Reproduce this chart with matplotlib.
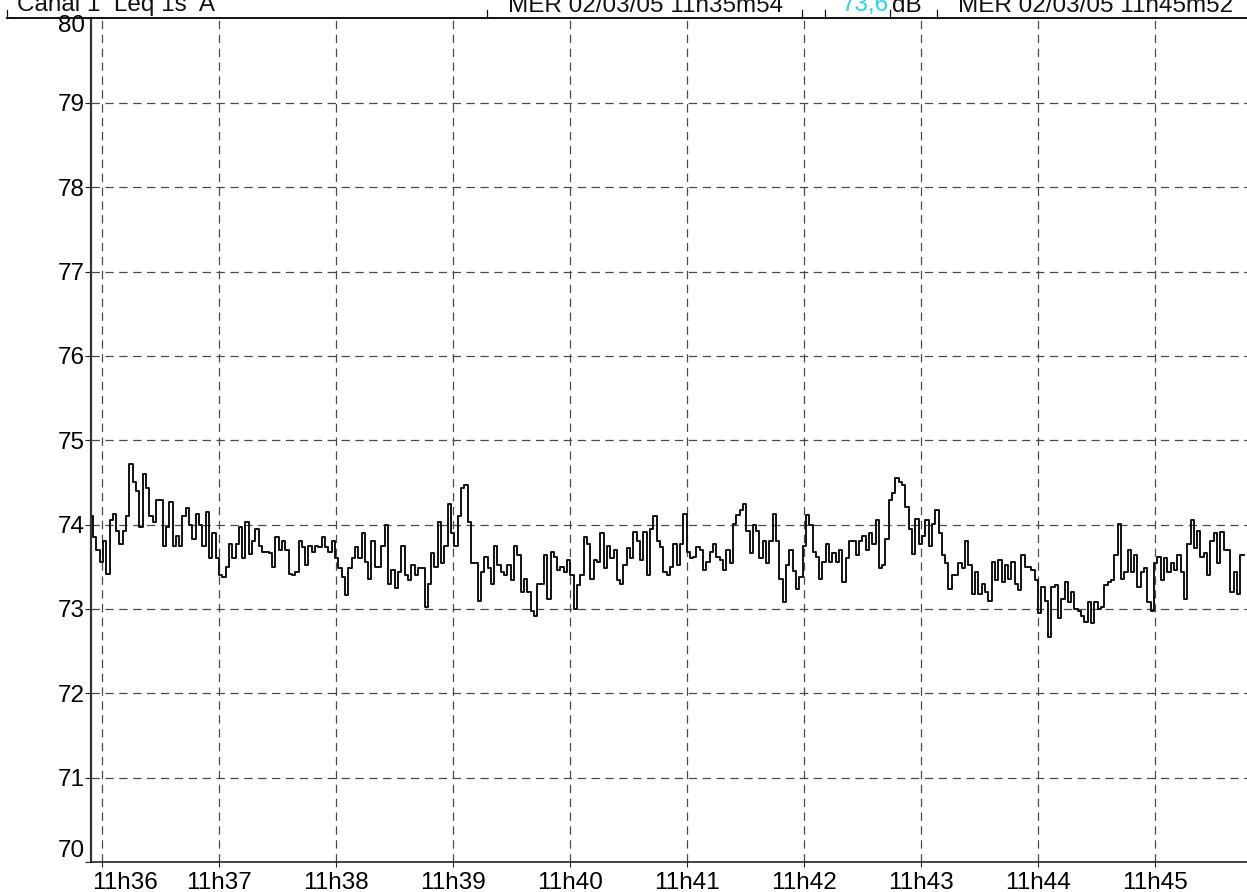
import matplotlib
matplotlib.use("Agg")
import matplotlib.pyplot as plt
import numpy as np
from matplotlib.ticker import FixedLocator, FuncFormatter
from matplotlib.transforms import ScaledTranslation
from matplotlib.lines import Line2D

plt.rcParams['font.family'] = ['Liberation Sans', 'DejaVu Sans']
plt.rcParams['lines.scale_dashes'] = False

# ---- data (Leq, dB(A)) ----
START_S = 2153.85          # seconds after 11h00m00s of first sample
SAMPLE_PERIOD_S = 1.70

levels_part1 = [74.1, 73.85, 73.7, 73.56, 73.8, 73.42, 74.05, 74.13, 73.93, 73.77,
                73.93, 74.1, 74.72, 74.5, 74.4, 73.97, 74.6, 74.43, 74.1, 74.03,
                74.29, 74.29, 73.75, 73.97, 74.27, 73.75, 73.87, 73.75, 74.1, 74.2,
                74.0, 73.83, 74.12, 74.0, 73.75, 74.15, 73.6, 73.9, 73.6, 73.4,
                73.38, 73.5, 73.77, 73.6, 73.77, 73.97, 73.6, 74.03, 73.65, 73.81,
                73.95, 73.75, 73.68, 73.68, 73.66, 73.5, 73.85, 73.7, 73.8, 73.7,
                73.42, 73.4, 73.44, 73.81, 73.73, 73.52, 73.75, 73.68, 73.75, 73.73,
                73.85, 73.73, 73.68, 73.8, 73.6, 73.48, 73.38, 73.16, 73.48, 73.6,
                73.73, 73.6, 73.9, 73.56, 73.36, 73.81, 73.5]
levels_part2 = [73.5, 73.75, 74.0, 73.3, 73.46, 73.25, 73.44, 73.75, 73.4, 73.34,
                73.52, 73.4, 73.48, 73.48, 73.02, 73.3, 73.66, 73.5, 74.03, 73.54,
                73.75, 74.25, 73.9, 73.75, 74.1, 74.43, 74.47, 74.03, 73.54, 73.54,
                73.1, 73.44, 73.62, 73.48, 73.3, 73.75, 73.52, 73.44, 73.4, 73.52,
                73.34, 73.75, 73.64, 73.2, 73.36, 73.2, 72.98, 72.92, 73.3, 73.3,
                73.64, 73.12, 73.68, 73.62, 73.46, 73.5, 73.44, 73.58, 73.4, 73.0,
                73.28, 73.4, 73.85, 73.77, 73.36, 73.58, 73.56, 73.9, 73.48, 73.75,
                73.6, 73.7, 73.34, 73.3, 73.52, 73.72, 73.6, 73.91, 73.8, 73.58,
                73.91, 73.4, 73.95, 74.1, 73.81, 73.73, 73.44]
levels_part3 = [73.4, 73.5, 73.77, 73.52, 73.77, 74.13, 73.68, 73.6, 73.62, 73.73,
                73.7, 73.46, 73.56, 73.68, 73.77, 73.62, 73.58, 73.46, 73.7, 73.54,
                74.01, 74.11, 74.17, 74.25, 73.93, 73.66, 74.0, 73.93, 73.6, 73.81,
                73.54, 73.81, 74.13, 73.81, 73.35, 73.08, 73.52, 73.7, 73.45, 73.24,
                73.38, 73.75, 74.11, 74.0, 73.68, 73.62, 73.36, 73.56, 73.77, 73.56,
                73.66, 73.56, 73.7, 73.32, 73.6, 73.81, 73.81, 73.64, 73.81, 73.87,
                73.7, 73.9, 73.77, 74.05, 73.48, 73.52, 73.83, 74.29, 74.37, 74.55,
                74.5, 74.47, 74.21, 73.95, 73.65, 74.07, 73.77, 73.87, 74.05, 73.75,
                74.01, 74.17, 73.9, 73.64, 73.54, 73.24, 73.4]
levels_part4 = [73.4, 73.55, 73.48, 73.81, 73.52, 73.18, 73.44, 73.18, 73.3, 73.2,
                73.1, 73.56, 73.34, 73.58, 73.32, 73.52, 73.36, 73.56, 73.3, 73.22,
                73.64, 73.5, 73.5, 73.46, 73.34, 72.95, 73.26, 73.1, 72.67, 73.26,
                73.28, 72.89, 73.12, 73.32, 73.08, 73.2, 73.0, 72.98, 72.92, 72.85,
                73.08, 72.83, 73.08, 73.0, 73.02, 73.28, 73.32, 73.34, 73.64, 74.01,
                73.35, 73.44, 73.7, 73.44, 73.64, 73.26, 73.44, 73.48, 73.08, 72.98,
                73.54, 73.62, 73.34, 73.6, 73.44, 73.54, 73.46, 73.64, 73.44, 73.12,
                73.77, 74.05, 73.72, 73.93, 73.62, 73.66, 73.4, 73.8, 73.9, 73.54,
                73.91, 73.7, 73.7, 73.2, 73.44, 73.18, 73.64, 73.64]

y_ticks = [70, 71, 72, 73, 74, 75, 76, 77, 78, 79, 80]
minute_ticks = [36, 37, 38, 39, 40, 41, 42, 43, 44, 45]
header_left = "Canal 1  Leq 1s  A"
header_start = "MER 02/03/05 11h35m54"
header_value = "73,6"
header_unit = "dB"
header_end = "MER 02/03/05 11h45m52"

levels = np.array(levels_part1 + levels_part2 + levels_part3 + levels_part4)
times = START_S + SAMPLE_PERIOD_S * np.arange(len(levels))

# ---- figure ----
W, H = 1247, 892
fig = plt.figure(figsize=(W / 100, H / 100), dpi=100)
fig.patch.set_facecolor('white')
ax_left, ax_right, ax_bottom, ax_top = 90.7, 1247, 862, 18.5
ax = fig.add_axes([ax_left / W, 1 - ax_bottom / H, (ax_right - ax_left) / W, (ax_bottom - ax_top) / H])

ax.step(times, levels, where='post', color='#111111', lw=1.4, zorder=3)

ax.set_ylim(70, 80)
ax.set_xlim(2154.4, 2747.2)

grid_kw = dict(color='#4a4a4a', lw=0.9, linestyle=(0, (6.0, 4.0)), zorder=1)
for m in minute_ticks:
    ax.axvline(m * 60, **grid_kw)
for v in y_ticks[1:-1]:
    ax.axhline(v, **grid_kw)

ax.xaxis.set_major_locator(FixedLocator([m * 60 for m in minute_ticks]))
ax.xaxis.set_major_formatter(FuncFormatter(lambda x, p: f"11h{int(round(x / 60)):02d}"))
ax.yaxis.set_major_locator(FixedLocator(y_ticks))
ax.yaxis.set_major_formatter(FuncFormatter(lambda v, p: f"{int(round(v))}"))

ax.tick_params(axis='x', length=3.6, width=0.8, pad=3.6, labelsize=17.5, color='#222222')
ax.tick_params(axis='y', length=4.3, width=0.8, pad=0, labelsize=17.5, color='#222222')

for s in ['top', 'right']:
    ax.spines[s].set_visible(False)
ax.spines['left'].set_linewidth(1.6)
ax.spines['left'].set_color('#333333')
ax.spines['bottom'].set_linewidth(1.2)
ax.spines['bottom'].set_color('#222222')

fig.canvas.draw()
xl = ax.get_xticklabels()
xl[0].set_horizontalalignment('left')
xl[0].set_transform(xl[0].get_transform() + ScaledTranslation(-0.09, 0, fig.dpi_scale_trans))
yl = ax.get_yticklabels()
yl[-1].set_verticalalignment('top')
yl[-1].set_transform(yl[-1].get_transform() + ScaledTranslation(0, 0.03, fig.dpi_scale_trans))
yl[0].set_verticalalignment('bottom')

# ---- header (partially cut off at top, as in the source screenshot) ----
def fx(px):
    return px / W

def fy(py):
    return 1 - py / H

fig.add_artist(Line2D([fx(7), fx(1247)], [fy(18), fy(18)], color='#111111', lw=1.4))
for px in [7, 487, 802, 825, 890, 937]:
    fig.add_artist(Line2D([fx(px), fx(px)], [fy(10), fy(18)], color='#111111', lw=0.9))

base = fy(11.5)
fs = 17.5
fig.text(fx(17), base, header_left, fontsize=fs, va='baseline', ha='left', color='#111111')
fig.text(fx(508), base, header_start, fontsize=fs, va='baseline', ha='left', color='#111111')
fig.text(fx(842), base, header_value, fontsize=fs, va='baseline', ha='left', color='#22d8f0')
fig.text(fx(892), base, header_unit, fontsize=fs, va='baseline', ha='left', color='#111111')
fig.text(fx(958), base, header_end, fontsize=fs, va='baseline', ha='left', color='#111111')

fig.savefig('out.png', dpi=100, facecolor='white')
